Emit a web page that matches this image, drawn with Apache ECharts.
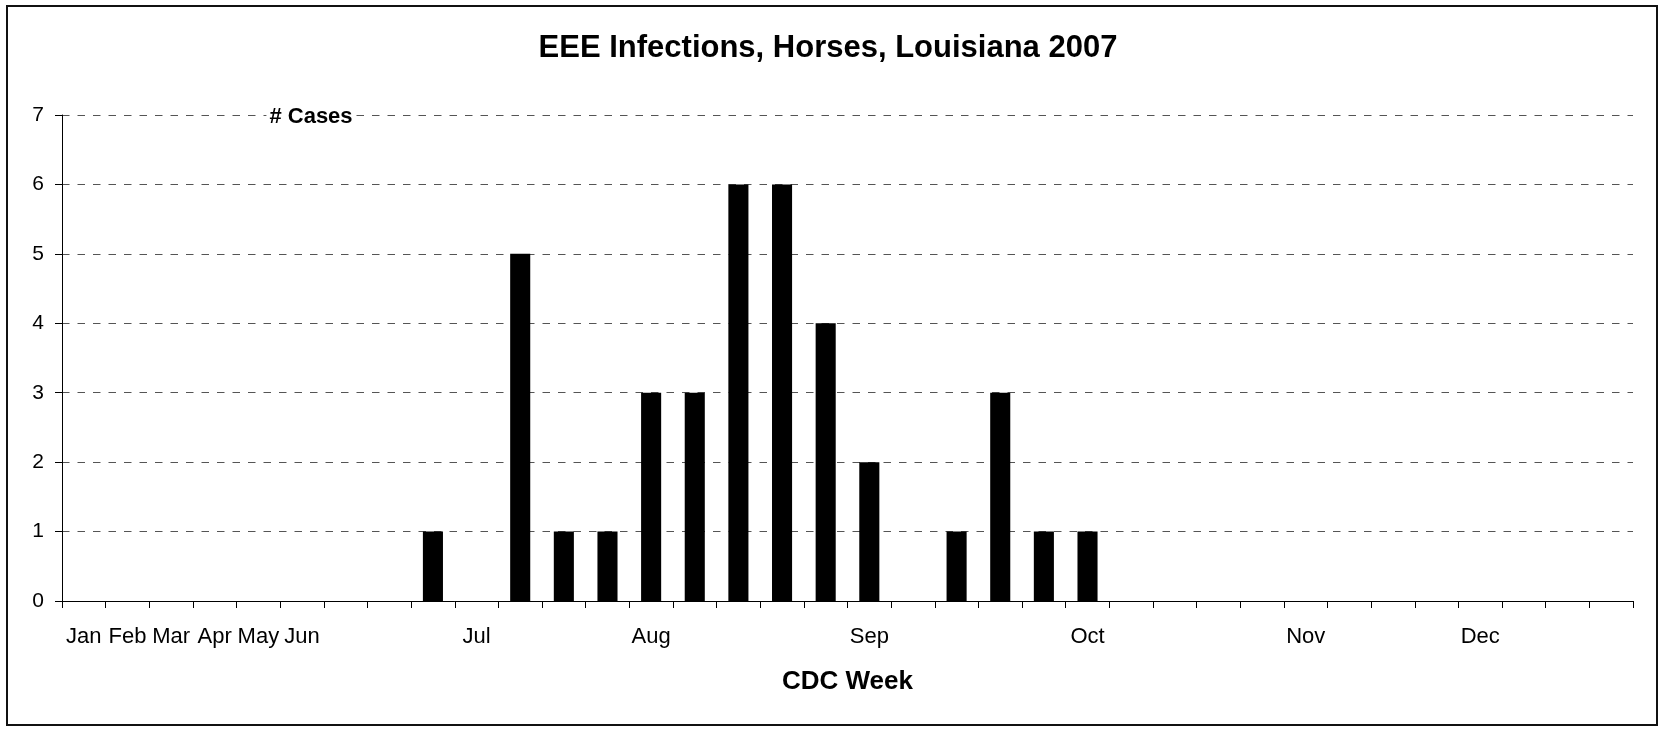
<!DOCTYPE html>
<html>
<head>
<meta charset="utf-8">
<script src="https://cdn.jsdelivr.net/npm/echarts@6/dist/echarts.min.js"></script>
<style>
html, body { margin: 0; padding: 0; background: #fff; }
#chart { width: 1664px; height: 730px; }
</style>
</head>
<body>
<div id="chart"></div>
<script>
// CDC week categories (36 slots as drawn in the chart)
var weeks = ['W1','W2','W3','W4','W5','W6','W7','W8','W9','W10','W11','W12',
             'W13','W14','W15','W16','W17','W18','W19','W20','W21','W22','W23','W24',
             'W25','W26','W27','W28','W29','W30','W31','W32','W33','W34','W35','W36'];
// Month tick labels shown under the week slots
var tickLabels = ['Jan','Feb','Mar','Apr','May','Jun','','','','Jul','','',
                  '','Aug','','','','','Sep','','','','','Oct',
                  '','','','','Nov','','','','Dec','','',''];
// Number of EEE cases per week
var cases = [0,0,0,0,0,0,0,0,1,0,5,1,
             1,3,3,6,6,4,2,0,1,3,1,1,
             0,0,0,0,0,0,0,0,0,0,0,0];
var yTicks = [0,1,2,3,4,5,6,7];

var FONT = '"Liberation Sans", Arial, sans-serif';
var chart = echarts.init(document.getElementById('chart'));
chart.setOption({
  animation: false,
  backgroundColor: '#ffffff',
  title: {
    text: 'EEE Infections, Horses, Louisiana 2007',
    left: 828,
    top: 32,
    padding: 0,
    textAlign: 'center',
    textStyle: { fontFamily: FONT, fontSize: 31, fontWeight: 'bold', color: '#000', lineHeight: 32 }
  },
  grid: { left: 62, right: 31, top: 115, bottom: 129, containLabel: false },
  xAxis: {
    type: 'category',
    data: weeks,
    name: 'CDC Week',
    nameLocation: 'middle',
    nameGap: 68,
    nameTextStyle: { fontFamily: FONT, fontSize: 26, fontWeight: 'bold', color: '#000' },
    axisLine: { show: true, lineStyle: { color: '#000', width: 1 } },
    axisTick: { show: true, length: 7, lineStyle: { color: '#000', width: 1 } },
    axisLabel: {
      interval: 0,
      hideOverlap: false,
      margin: 25,
      fontFamily: FONT,
      fontSize: 22,
      color: '#000',
      formatter: function (v, i) { return tickLabels[i]; }
    },
    splitLine: { show: false }
  },
  yAxis: {
    type: 'value',
    min: yTicks[0],
    max: yTicks[yTicks.length - 1],
    interval: 1,
    axisLine: { show: true, lineStyle: { color: '#000', width: 1 } },
    axisTick: { show: true, length: 7, lineStyle: { color: '#000', width: 1 } },
    axisLabel: { margin: 18, fontFamily: FONT, fontSize: 21, color: '#000' },
    splitLine: { show: true, lineStyle: { color: '#555', width: 1, type: [7.5, 8] } }
  },
  series: [{
    type: 'bar',
    data: cases,
    barWidth: '46%',
    itemStyle: { color: '#000' }
  }],
  graphic: [
    {
      type: 'rect',
      shape: { x: 7, y: 6, width: 1650, height: 719 },
      style: { fill: null, stroke: '#111', lineWidth: 2 },
      silent: true
    },
    {
      type: 'text',
      x: 311,
      y: 117,
      style: {
        text: '# Cases',
        fontFamily: FONT,
        fontSize: 22,
        fontWeight: 'bold',
        fill: '#000',
        align: 'center',
        verticalAlign: 'middle',
        backgroundColor: '#fff',
        padding: [0, 3]
      },
      z: 100
    }
  ]
});
</script>
</body>
</html>
